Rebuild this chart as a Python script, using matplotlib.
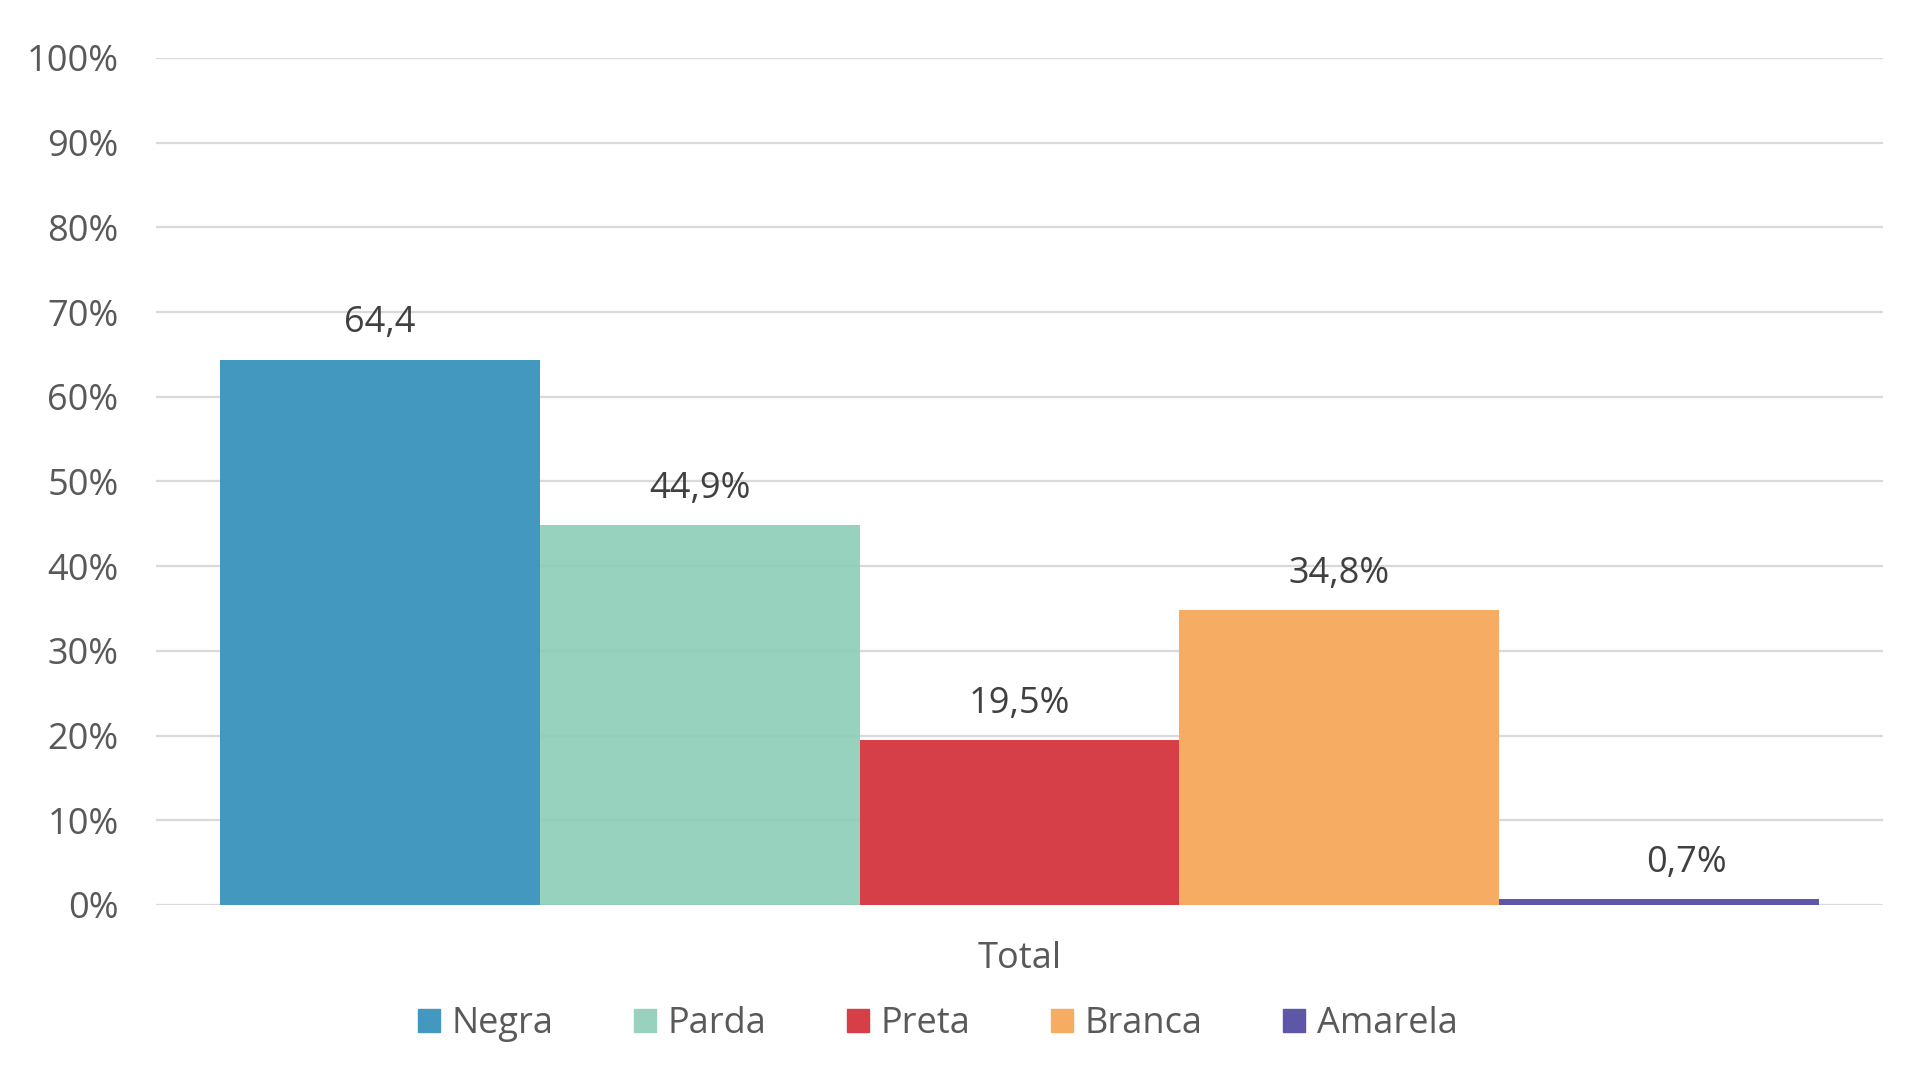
import matplotlib
matplotlib.use("Agg")
import matplotlib.pyplot as plt
import numpy as np

plt.rcParams["font.family"] = ["Open Sans", "DejaVu Sans"]

# data
categories = ["Negra", "Parda", "Preta", "Branca", "Amarela"]
values = [64.4, 44.9, 19.5, 34.8, 0.7]
value_labels = ["64,4", "44,9%", "19,5%", "34,8%", "0,7%"]
group_label = "Total"
yticks = list(range(0, 101, 10))

# style
colors = ["#4398C0", "#8CCDB8", "#D63F47", "#F6AD63", "#5E56A6"]
legend_colors = ["#4398C0", "#98D2BF", "#D63F47", "#F6AD63", "#5E56A6"]
alphas = [1.0, 0.9, 1.0, 1.0, 1.0]
label_dx = [0, 0, 0, 0, 20]  # points

fig = plt.figure(figsize=(19.2, 10.8), dpi=100)
ax = fig.add_axes([156 / 1920, 1 - 905 / 1080, (1883 - 156) / 1920, (905 - 58) / 1080])

n = len(values)
group_w = (1819 - 220) / 1727
bar_w = group_w / n
xs = -group_w / 2 + bar_w / 2 + np.arange(n) * bar_w

bars = ax.bar(xs, values, width=bar_w, color=colors, zorder=2)
for b, a in zip(bars, alphas):
    b.set_alpha(a)

for x, v, lab, dx in zip(xs, values, value_labels, label_dx):
    ax.annotate(lab, (x, v), xytext=(dx, 13), textcoords="offset points",
                ha="center", va="bottom", fontsize=26, color="#404040")

ax.set_xlim(-0.5, 0.5)
ax.set_ylim(0, 100)
ax.set_yticks(yticks)
ax.set_yticklabels([f"{t}%" for t in yticks])
ax.set_xticks([0])
ax.set_xticklabels([group_label])
ax.tick_params(axis="y", length=0, pad=27, labelsize=26, labelcolor="#595959")
ax.tick_params(axis="x", length=0, pad=26, labelsize=26, labelcolor="#595959")
ax.grid(axis="y", color="#D9D9D9", linewidth=1.6, zorder=0)
ax.set_axisbelow(True)
for s in ax.spines.values():
    s.set_visible(False)

handles = [plt.Rectangle((0, 0), 1, 1, color=c) for c in legend_colors]
fig.legend(handles, categories, loc="center", bbox_to_anchor=(938 / 1920, 1 - 1024 / 1080),
           ncol=5, frameon=False, fontsize=26, handlelength=0.6, handleheight=0.6,
           handletextpad=0.33, columnspacing=2.23, labelcolor="#595959")

fig.savefig("out.png", dpi=100, facecolor="white")
